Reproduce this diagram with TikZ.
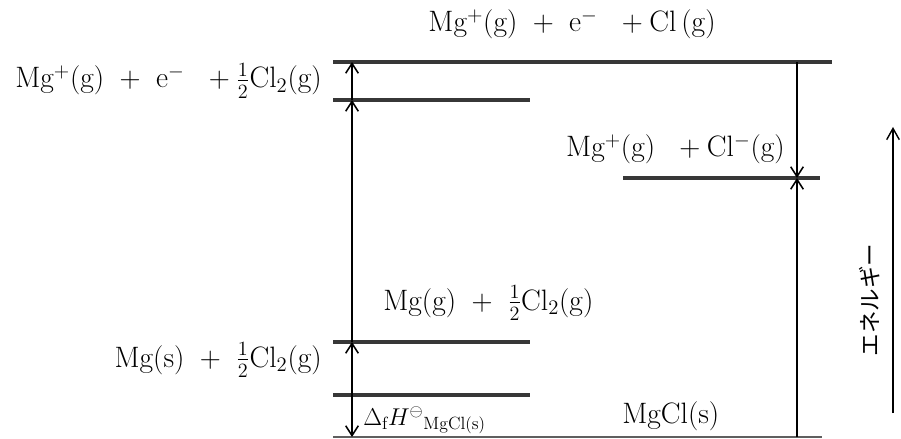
\documentclass[tikz,border=0pt]{standalone}
\usepackage{fontspec}
\usepackage{amsmath,amssymb}
\newfontfamily\jpfont{Noto Sans CJK JP}
\usetikzlibrary{arrows.meta,positioning,calc}
\definecolor{levelcol}{RGB}{55,55,55}

\begin{document}
\begin{tikzpicture}[x=0.025cm,y=-0.025cm,font=\fontsize{21}{25}\selectfont,
  level/.style={draw=levelcol, line width=2.6pt},
  trans/.style={draw=black, line width=1.2pt, -{Straight Barb[length=7pt,width=9pt,line width=1.1pt]}},
  lbl/.style={inner sep=0pt}]
\useasboundingbox (0,0) rectangle (901,439);
\coordinate (ionCl-l) at (333,62);  \coordinate (ionCl-r) at (832,62);
\coordinate (ion-l) at (333,100);   \coordinate (ion-r) at (530,100);
\coordinate (pair-l) at (623,178);  \coordinate (pair-r) at (820,178);
\coordinate (gas-l) at (333,342);   \coordinate (gas-r) at (530,342);
\coordinate (std-l) at (333,395);   \coordinate (std-r) at (530,395);
\coordinate (salt-l) at (333,437);  \coordinate (salt-r) at (822,437);
\coordinate (axL) at (352,0);       \coordinate (axR) at (797,0);
\coordinate (eBot) at (893,413);    \coordinate (eTop) at (893,127);

\foreach \lv in {ionCl,ion,pair,gas,std}
  \draw[level] (\lv-l) -- (\lv-r);
\draw[level, line width=1.8pt, draw=levelcol!80] (salt-l) -- (salt-r);

\draw[trans] (ion-l -| axL) -- (ionCl-l -| axL);
\draw[trans] (gas-l -| axL) -- (ion-l -| axL);
\draw[trans] (std-l -| axL) -- (gas-l -| axL);
\draw[trans] (std-l -| axL) -- (salt-l -| axL);
\draw[trans] (ionCl-l -| axR) -- (pair-l -| axR);
\draw[trans] (salt-l -| axR) -- (pair-l -| axR);
\draw[line width=1.2pt, -{Straight Barb[length=8pt,width=9pt,line width=1pt]}] (eBot) -- (eTop);

\node[lbl, anchor=base] (tIonCl) at (572,32) {$\mathrm{Mg^{+}(g)}\ +\ \mathrm{e^{-}}\ \ +\mathrm{Cl\,(g)}$};
\node[lbl, anchor=base east] (tIon) at (322,88) {$\mathrm{Mg^{+}(g)}\ +\ \mathrm{e^{-}}\ \ +\tfrac{1}{2}\mathrm{Cl_2(g)}$};
\node[lbl, anchor=base east] (tPair) at (785,157) {$\mathrm{Mg^{+}(g)}\ \ +\mathrm{Cl^{-}(g)}$};
\node[lbl, anchor=base west] (tGas) at (383,310) {$\mathrm{Mg(g)}\ +\ \tfrac{1}{2}\mathrm{Cl_2(g)}$};
\node[lbl, anchor=base east] (tStd) at (322,367) {$\mathrm{Mg(s)}\ +\ \tfrac{1}{2}\mathrm{Cl_2(g)}$};
\node[lbl, anchor=base west, font=\fontsize{18}{22}\selectfont] (tDH) at (363,425) {$\Delta_{\mathrm{f}}H^{\ominus}{}_{\mathrm{MgCl(s)}}$};
\node[lbl, anchor=base west] (tSalt) at (622,423) {$\mathrm{MgCl(s)}$};
\node[lbl, rotate=90, font=\fontsize{16}{18}\jpfont] (tEnergy) at (870,300) {エネルギー};
\end{tikzpicture}
\end{document}
